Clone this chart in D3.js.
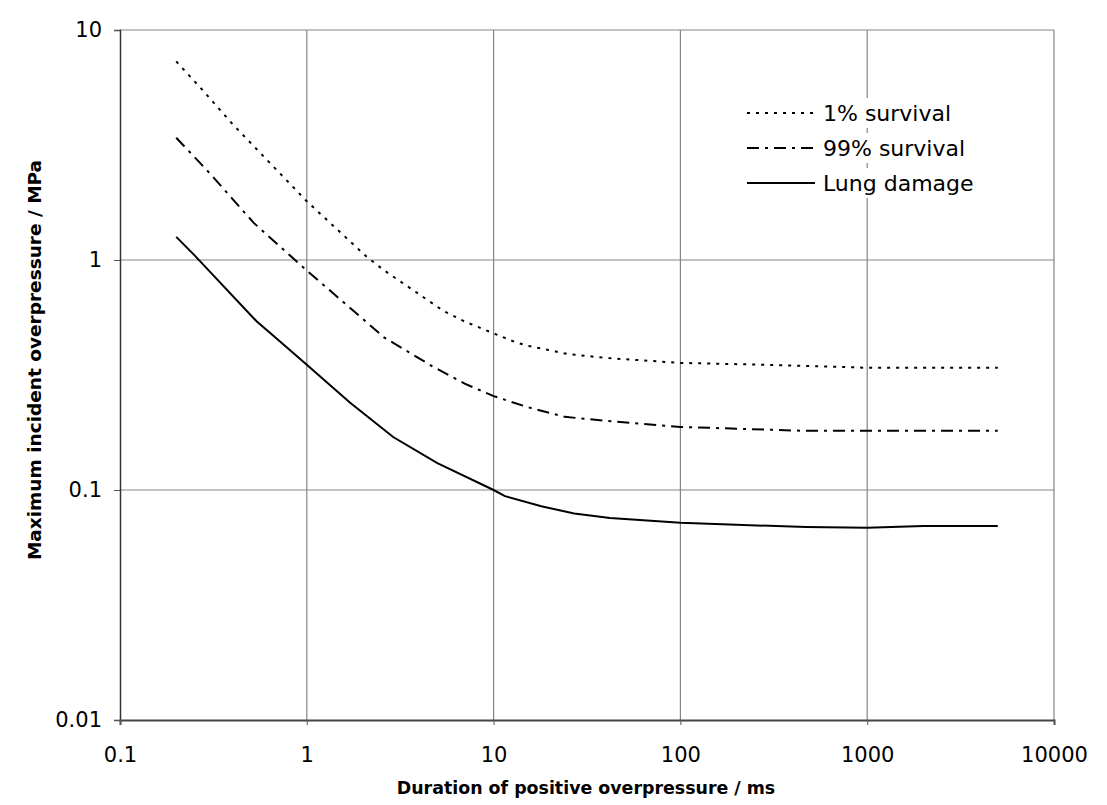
<!DOCTYPE html>
<html>
<head>
<meta charset="utf-8">
<script src="https://cdn.jsdelivr.net/npm/d3@7"></script>
<style>
  body { margin: 0; background: #fff; }
  text { font-family: "DejaVu Sans", Verdana, sans-serif; fill: #000; }
</style>
</head>
<body>
<div id="chart"></div>
<script>
// duration (ms) and overpressure (MPa)
const survival1 = [
  [0.2, 7.3], [0.27, 5.6], [0.4, 3.9], [1, 1.8], [2.1, 1.03], [2.6, 0.9],
  [5.4, 0.6], [7, 0.54], [10, 0.48], [13, 0.44], [15, 0.425], [25, 0.39],
  [40, 0.375], [100, 0.357], [300, 0.35], [1000, 0.34], [5000, 0.34]
];
const survival99 = [
  [0.2, 3.4], [0.3, 2.4], [0.52, 1.45], [1, 0.9], [1.7, 0.62], [2.6, 0.46],
  [4.7, 0.345], [7, 0.29], [10, 0.256], [15, 0.23], [24, 0.208], [40, 0.2],
  [100, 0.188], [450, 0.181], [1000, 0.181], [5000, 0.181]
];
const lungDamage = [
  [0.2, 1.26], [0.25, 1.05], [0.54, 0.54], [0.66, 0.47], [1, 0.35], [1.7, 0.24],
  [2.9, 0.17], [5, 0.131], [10, 0.1], [11.5, 0.094], [18, 0.085], [27, 0.079],
  [42, 0.0755], [100, 0.072], [470, 0.069], [1000, 0.0685], [2000, 0.0697], [5000, 0.0697]
];
const xTicks = [0.1, 1, 10, 100, 1000, 10000];
const xTickLabels = ["0.1", "1", "10", "100", "1000", "10000"];
const yTicks = [0.01, 0.1, 1, 10];
const yTickLabels = ["0.01", "0.1", "1", "10"];
const seriesNames = ["1% survival", "99% survival", "Lung damage"];

const margin = { top: 30, right: 53, bottom: 85, left: 120 };
const width = 1107 - margin.left - margin.right;
const height = 805 - margin.top - margin.bottom;

const svg = d3.select("#chart")
  .append("svg")
  .attr("width", 1107)
  .attr("height", 805)
  .append("g")
  .attr("transform", `translate(${margin.left},${margin.top})`);

const x = d3.scaleLog().domain([0.1, 10000]).range([0, width]);
const y = d3.scaleLog().domain([0.01, 10]).range([height, 0]);

// gridlines
svg.append("g")
  .selectAll("line")
  .data(xTicks.slice(1))
  .join("line")
  .attr("x1", d => x(d)).attr("x2", d => x(d))
  .attr("y1", 0).attr("y2", height)
  .attr("stroke", "#858585").attr("stroke-width", 1.2);

svg.append("g")
  .selectAll("line")
  .data(yTicks.slice(1))
  .join("line")
  .attr("x1", 0).attr("x2", width)
  .attr("y1", d => y(d)).attr("y2", d => y(d))
  .attr("stroke", "#858585").attr("stroke-width", 1.2);

// Y axis
const yAxis = svg.append("g")
  .call(d3.axisLeft(y).tickValues(yTicks).tickFormat((d, i) => yTickLabels[i])
    .tickSize(6).tickPadding(12));
yAxis.select(".domain").attr("stroke", "#333").attr("stroke-width", 1.5);
yAxis.selectAll(".tick line").attr("stroke", "#555");
yAxis.selectAll("text").style("font-size", "21px");

// X axis
const xAxis = svg.append("g")
  .attr("transform", `translate(0,${height})`)
  .call(d3.axisBottom(x).tickValues(xTicks).tickFormat((d, i) => xTickLabels[i])
    .tickSize(5).tickPadding(22));
xAxis.select(".domain").attr("stroke", "#444").attr("stroke-width", 2);
xAxis.selectAll(".tick line").attr("stroke", "#555");
xAxis.selectAll("text").style("font-size", "21px");

// axis titles
svg.append("text")
  .attr("x", 586 - margin.left)
  .attr("y", height + 74)
  .attr("text-anchor", "middle")
  .style("font-size", "17.4px")
  .style("font-weight", "bold")
  .text("Duration of positive overpressure / ms");

svg.append("text")
  .attr("transform", `translate(${-79},${360 - margin.top}) rotate(-90)`)
  .attr("text-anchor", "middle")
  .style("font-size", "18.5px")
  .style("font-weight", "bold")
  .text("Maximum incident overpressure / MPa");

// curves
const line = d3.line()
  .x(d => x(d[0]))
  .y(d => y(d[1]));

const styles = [
  { data: survival1, dash: "3,6" },
  { data: survival99, dash: "12,6,3,6" },
  { data: lungDamage, dash: null }
];

styles.forEach(s => {
  svg.append("path")
    .datum(s.data)
    .attr("fill", "none")
    .attr("stroke", "#000")
    .attr("stroke-width", 2)
    .attr("stroke-dasharray", s.dash)
    .attr("d", line);
});

// legend
const legend = svg.append("g")
  .attr("transform", `translate(${747 - margin.left},${113 - margin.top})`);

const legendRows = legend.selectAll("g")
  .data(styles)
  .join("g")
  .attr("transform", (d, i) => `translate(0,${i * 35})`);

legendRows.append("rect")
  .attr("x", -4).attr("y", -15).attr("width", 230).attr("height", 30)
  .attr("fill", "#fff");

legendRows.append("line")
  .attr("x1", 0).attr("x2", 68)
  .attr("stroke", "#000")
  .attr("stroke-width", 2)
  .attr("stroke-dasharray", d => d.dash);

legendRows.append("text")
  .attr("x", 76)
  .attr("dy", "0.35em")
  .style("font-size", "22px")
  .text((d, i) => seriesNames[i]);
</script>
</body>
</html>
